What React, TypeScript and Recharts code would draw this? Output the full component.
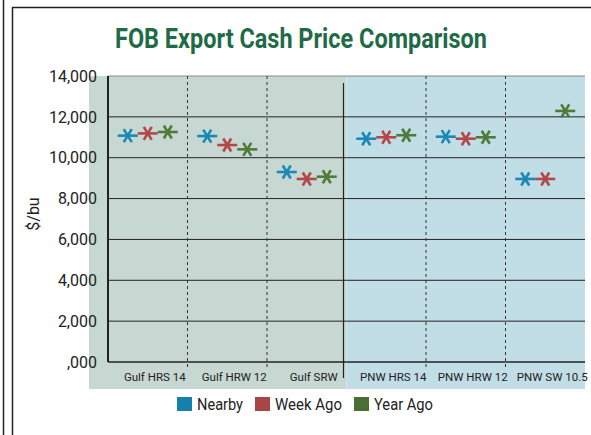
import { ComposedChart, Line, XAxis, YAxis, ReferenceArea, Legend } from 'recharts';

const categories = ['Gulf HRS 14', 'Gulf HRW 12', 'Gulf SRW', 'PNW HRS 14', 'PNW HRW 12', 'PNW SW 10.5'];
const nearby = [11080, 11060, 9300, 10930, 11030, 8960];
const weekAgo = [11190, 10620, 8960, 11000, 10930, 8960];
const yearAgo = [11260, 10410, 9070, 11100, 11000, 12290];
const yTicks = [0, 2000, 4000, 6000, 8000, 10000, 12000, 14000];
const Y_MAX = 14000;

const data = categories.map((name, i) => ({
  name,
  nearby: nearby[i],
  weekAgo: weekAgo[i],
  yearAgo: yearAgo[i],
}));

const series = [
  { key: 'nearby', name: 'Nearby', color: '#1b88b6', swatch: '#1580ad', shift: -20, textW: 46 },
  { key: 'weekAgo', name: 'Week Ago', color: '#b4474a', swatch: '#a84545', shift: 0, textW: 67 },
  { key: 'yearAgo', name: 'Year Ago', color: '#4f7b3a', swatch: '#4a6f36', shift: 20, textW: 59 },
];

const FONT = 'Roboto, "Noto Sans", sans-serif';
const AXIS = '#222';

// chart box
const W = 591;
const H = 435;
const M = { top: 76, right: 6, bottom: 73, left: 0 };
const Y_AXIS_W = 108;
const X_AXIS_H = 30;
const LEGEND_H = 30;
const plotLeft = M.left + Y_AXIS_W;
const plotRight = W - M.right;
const plotBottom = H - M.bottom;
const band = (plotRight - plotLeft) / categories.length;
const splitX = plotLeft + band * 3;

// asterisk-like marker, shifted sideways inside the category
const starDot = (color: string, shift: number) => (props: any) => {
  const { cx, cy, index } = props;
  if (cx == null || cy == null) return <g key={`e-${index}`} />;
  const x = cx + shift;
  return (
    <g key={`d-${index}`} stroke={color} strokeWidth={2.6}>
      <line x1={x - 10} y1={cy} x2={x + 10} y2={cy} />
      <line x1={x - 4} y1={cy - 6.5} x2={x + 4} y2={cy + 6.5} />
      <line x1={x - 4} y1={cy + 6.5} x2={x + 4} y2={cy - 6.5} />
    </g>
  );
};

// grid, axis and divider pieces for one category band
const bandFrame = (i: number) => (p: any) => {
  const yOf = (v: number) => p.y + p.height * (1 - v / Y_MAX);
  const bottom = p.y + p.height;
  return (
    <g>
      {yTicks.slice(1).map((v) => (
        <line
          key={v}
          x1={p.x}
          x2={p.x + p.width}
          y1={yOf(v)}
          y2={yOf(v)}
          stroke={v === Y_MAX ? '#888' : AXIS}
          strokeWidth={1}
        />
      ))}
      <line x1={p.x} x2={p.x + p.width} y1={bottom} y2={bottom} stroke={AXIS} strokeWidth={1.5} />
      {i === 0 && <line x1={p.x} x2={p.x} y1={p.y} y2={bottom} stroke={AXIS} strokeWidth={2} />}
      {i === 3 && <line x1={p.x - 3} x2={p.x - 3} y1={p.y + 7} y2={bottom + 16} stroke="#222" strokeWidth={1.2} />}
      {i % 3 !== 0 && (
        <line x1={p.x} x2={p.x} y1={p.y} y2={bottom + 7} stroke="#333" strokeWidth={1} strokeDasharray="3 3" />
      )}
    </g>
  );
};

const XTick = ({ x, y, payload }: any) => (
  <text x={x + 7} y={y + 9} dy="0.71em" textAnchor="middle" fontSize={11.5} fontFamily={FONT} fill="#222">
    {payload.value}
  </text>
);

const renderLegend = () => {
  let pos = 177;
  return (
    <svg width={W} height={LEGEND_H} style={{ display: 'block' }}>
      {series.map((s) => {
        const x = pos;
        pos += 20 + s.textW + 12;
        return (
          <g key={s.key}>
            <rect x={x} y={5} width={15} height={14} fill={s.swatch} />
            <text x={x + 20} y={18} fontSize={17} fontFamily={FONT} fill="#222" textLength={s.textW} lengthAdjust="spacingAndGlyphs">
              {s.name}
            </text>
          </g>
        );
      })}
    </svg>
  );
};

export default function App() {
  return (
    <div style={{ position: 'absolute', left: 0, top: 0, width: W, height: H, background: '#fff', overflow: 'hidden' }}>
      {/* frame, title and the two region backgrounds sit under the chart svg */}
      <svg width={W} height={H} style={{ position: 'absolute', left: 0, top: 0 }}>
        <line x1={3.5} y1={0} x2={3.5} y2={H} stroke="#222" strokeWidth={1.5} />
        <path d={`M12.5 ${H} L12.5 7.5 L${W} 7.5`} fill="none" stroke="#222" strokeWidth={1.5} />
        <text x={115} y={48} fontSize={28} fontWeight={700} fontFamily={FONT} fill="#1f6b47" textLength={372} lengthAdjust="spacingAndGlyphs">
          FOB Export Cash Price Comparison
        </text>
        <rect x={plotLeft - 19} y={M.top} width={splitX - plotLeft + 19} height={plotBottom - M.top + 27} fill="#c6d8d1" />
        <rect x={splitX} y={M.top} width={plotRight - splitX} height={plotBottom - M.top + 27} fill="#c1dde6" />
      </svg>
      <div style={{ position: 'absolute', left: 0, top: 0 }}>
        {/* x axis height is taken off the bottom by recharts */}
        <ComposedChart width={W} height={H} data={data} margin={{ ...M, bottom: M.bottom - X_AXIS_H }}>
          {categories.map((c, i) => (
            <ReferenceArea key={c} x1={c} x2={c} y1={0} y2={Y_MAX} ifOverflow="visible" shape={bandFrame(i)} />
          ))}
          <XAxis
            dataKey="name"
            scale="band"
            height={X_AXIS_H}
            axisLine={false}
            tickLine={false}
            tickSize={0}
            interval={0}
            tick={<XTick />}
          />
          <YAxis
            width={Y_AXIS_W}
            domain={[0, Y_MAX]}
            ticks={yTicks}
            interval={0}
            axisLine={false}
            tickLine={false}
            tickSize={0}
            tickMargin={11}
            tickFormatter={(v: number) => (v === 0 ? ',000' : v.toLocaleString('en-US'))}
            tick={{ fontSize: 16, fontFamily: FONT, fill: '#222' }}
            label={{
              content: ({ viewBox }: any) => {
                if (!viewBox) return null;
                const cy = viewBox.y + viewBox.height / 2 - 5;
                return (
                  <text x={33} y={cy} transform={`rotate(-90, 33, ${cy})`} textAnchor="middle" dominantBaseline="central" fontSize={16} fontFamily={FONT} fill="#222">
                    $/bu
                  </text>
                );
              },
            }}
          />
          {series.map((s) => (
            <Line
              key={s.key}
              dataKey={s.key}
              name={s.name}
              stroke="none"
              dot={starDot(s.color, s.shift)}
              activeDot={false}
              isAnimationActive={false}
            />
          ))}
          <Legend verticalAlign="middle" align="center" layout="horizontal" content={renderLegend} wrapperStyle={{ left: 0, top: 392, width: W, height: LEGEND_H }} />
        </ComposedChart>
      </div>
    </div>
  );
}
